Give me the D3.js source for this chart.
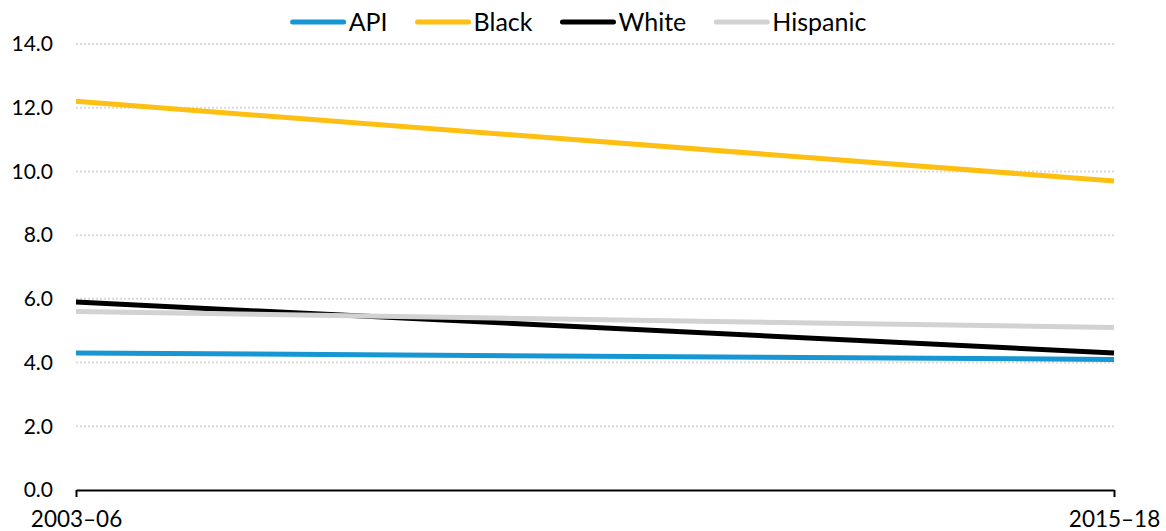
<!DOCTYPE html>
<html>
<head>
<meta charset="utf-8">
<script src="https://cdn.jsdelivr.net/npm/d3@7"></script>
<style>
  html, body { margin: 0; padding: 0; background: #fff; }
  svg { display: block; font-family: Lato, 'Open Sans', sans-serif; }
</style>
</head>
<body>
<svg id="chart" width="1166" height="531"></svg>
<script>
const periods = ['2003–06', '2015–18']
const apiValues = [4.3, 4.1]
const blackValues = [12.2, 9.7]
const whiteValues = [5.9, 4.3]
const hispanicValues = [5.6, 5.1]
const yTicks = [0, 2, 4, 6, 8, 10, 12, 14]

const series = [
  { name: 'API', values: apiValues, color: '#1696d2' },
  { name: 'Black', values: blackValues, color: '#fdbf11' },
  { name: 'White', values: whiteValues, color: '#000000' },
  { name: 'Hispanic', values: hispanicValues, color: '#d2d2d2' }
]

const svg = d3.select('#chart')
const margin = { top: 44, right: 52, bottom: 41, left: 76 }
const width = 1166 - margin.left - margin.right
const height = 531 - margin.top - margin.bottom

const g = svg.append('g')
  .attr('transform', `translate(${margin.left},${margin.top})`)

const x = d3.scalePoint().domain(periods).range([0, width])
const y = d3.scaleLinear().domain([0, 14]).range([height, 0])

// dotted gridlines (skip zero, the axis line sits there)
g.append('g')
  .selectAll('line')
  .data(yTicks.filter(d => d > 0))
  .enter()
  .append('line')
  .attr('x1', 0)
  .attr('x2', width)
  .attr('y1', d => y(d))
  .attr('y2', d => y(d))
  .attr('stroke', '#dadada')
  .attr('stroke-width', 2)
  .attr('stroke-dasharray', '2,2')

// y axis labels
g.append('g')
  .style('font-size', '21px')
  .style('font-family', 'Lato')
  .call(d3.axisLeft(y).tickValues(yTicks).tickSize(0).tickPadding(23).tickFormat(d3.format('.1f')))
  .call(a => a.select('.domain').remove())
  .call(a => a.selectAll('.tick text').attr('fill', '#000'))

// x axis
g.append('g')
  .attr('transform', `translate(0,${height})`)
  .style('font-size', '22.5px')
  .style('font-family', 'Lato')
  .call(d3.axisBottom(x).tickSize(7).tickSizeOuter(0).tickPadding(14))
  .call(a => a.select('.domain').attr('stroke', '#000').attr('stroke-width', 2))
  .call(a => a.selectAll('.tick line').attr('stroke', '#000').attr('stroke-width', 2))
  .call(a => a.selectAll('.tick text').attr('fill', '#000'))

// lines
const line = d3.line()
  .x((d, i) => x(periods[i]))
  .y(d => y(d))

g.append('g')
  .selectAll('path')
  .data(series)
  .enter()
  .append('path')
  .attr('d', d => line(d.values))
  .attr('fill', 'none')
  .attr('stroke', d => d.color)
  .attr('stroke-width', 5)
  .attr('stroke-linecap', 'butt')

// legend, centered at top
const legend = svg.append('g').attr('transform', 'translate(0,22)')
const swatchW = 55
const swatchGap = 3
const itemGap = 28
let cursor = 0
const items = []
series.forEach(s => {
  const item = legend.append('g')
  item.append('line')
    .attr('x1', 2).attr('x2', swatchW - 2)
    .attr('y1', 0).attr('y2', 0)
    .attr('stroke', s.color)
    .attr('stroke-width', 5)
    .attr('stroke-linecap', 'round')
  const t = item.append('text')
    .attr('x', swatchW + swatchGap)
    .attr('dy', '0.35em')
    .style('font-size', '25px')
    .style('font-family', 'Lato')
    .attr('fill', '#000')
    .text(s.name)
  const w = swatchW + swatchGap + t.node().getComputedTextLength()
  items.push({ item, offset: cursor })
  cursor += w + itemGap
})
const total = cursor - itemGap
const start = 578.5 - total / 2
items.forEach(d => d.item.attr('transform', `translate(${start + d.offset},0)`))
</script>
</body>
</html>
